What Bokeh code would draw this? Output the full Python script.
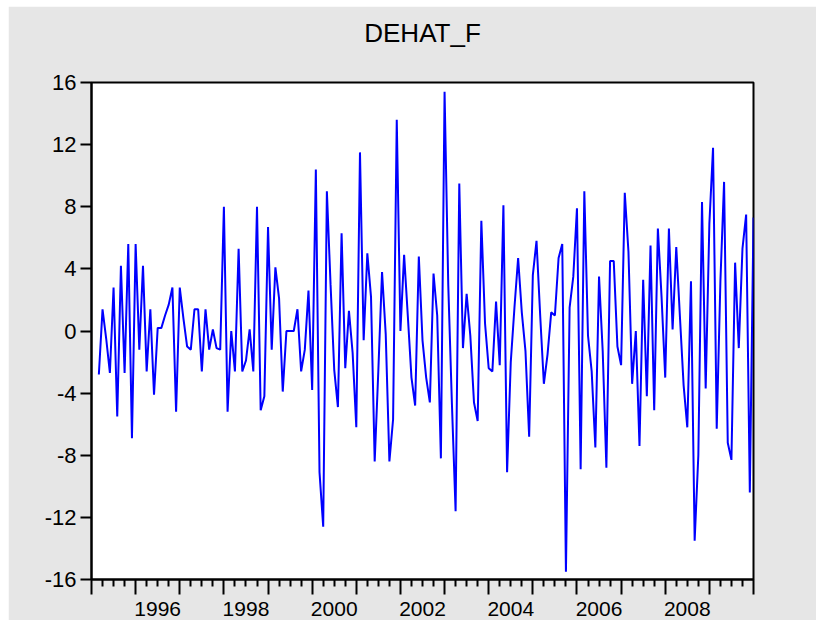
from bokeh.plotting import figure
from bokeh.models import Range1d, FixedTicker, LinearAxis, Spacer
from bokeh.layouts import column, row
from bokeh.embed import file_html
from bokeh.resources import INLINE

title_text = "DEHAT_F"

# monthly values, 1995M02 .. 2009M12
v1995 = [-2.8, 1.4, -0.5, -2.7, 2.8, -5.5, 4.2, -2.7, 5.6, -6.9, 5.6]
v1996 = [-1.2, 4.2, -2.6, 1.4, -4.1, 0.2, 0.2, 1.0, 1.7, 2.8, -5.2, 2.8]
v1997 = [0.8, -1.0, -1.2, 1.4, 1.4, -2.6, 1.4, -1.2, 0.1, -1.1, -1.2, 8.0]
v1998 = [-5.2, 0.0, -2.6, 5.3, -2.6, -1.9, 0.1, -2.6, 8.0, -5.1, -4.2, 6.7]
v1999 = [-1.2, 4.1, 2.1, -3.9, 0.0, 0.0, 0.0, 1.4, -2.6, -1.2, 2.6, -3.8]
v2000 = [10.4, -9.1, -12.6, 9.0, 3.0, -2.5, -4.9, 6.3, -2.4, 1.3, -1.4, -6.2]
v2001 = [11.5, -0.6, 5.0, 2.2, -8.4, -2.5, 3.8, -0.2, -8.4, -5.7, 13.6, 0.0]
v2002 = [4.9, 1.0, -3.0, -4.8, 4.8, -0.6, -3.0, -4.6, 3.7, 1.0, -8.2, 15.4]
v2003 = [3.0, -4.7, -11.6, 9.5, -1.1, 2.4, -0.3, -4.6, -5.8, 7.1, 0.5, -2.4]
v2004 = [-2.6, 1.9, -2.2, 8.1, -9.1, -2.0, 1.5, 4.7, 1.2, -1.3, -6.8, 3.6]
v2005 = [5.8, 1.0, -3.4, -1.5, 1.2, 1.0, 4.7, 5.6, -15.5, 1.5, 3.5, 7.9]
v2006 = [-8.9, 9.0, -0.3, -2.6, -7.5, 3.5, -1.3, -8.8, 4.5, 4.5, -1.0, -2.2]
v2007 = [8.9, 5.1, -3.4, 0.0, -7.4, 3.3, -4.2, 5.5, -5.1, 6.6, 2.2, -3.0]
v2008 = [6.6, 0.1, 5.4, 0.9, -3.5, -6.2, 3.2, -13.5, -8.0, 8.3, -3.7, 6.9]
v2009 = [11.8, -6.3, 3.2, 9.6, -7.2, -8.3, 4.4, -1.1, 5.3, 7.5, -10.4, 7.3]

years = list(range(1995, 2010))
yearly = [v1995, v1996, v1997, v1998, v1999, v2000, v2001, v2002,
          v2003, v2004, v2005, v2006, v2007, v2008, v2009]

y_ticks = [-16, -12, -8, -4, 0, 4, 8, 12, 16]
y_tick_labels = ["-16", "-12", "-8", "-4", "0", "4", "8", "12", "16"]
year_ticks = list(range(1995, 2011))
label_years = [1996, 1998, 2000, 2002, 2004, 2006, 2008]
label_texts = ["1996", "1998", "2000", "2002", "2004", "2006", "2008"]

xs, ys = [], []
for yr, vals in zip(years, yearly):
    m0 = 12 - len(vals) + 1
    for j, v in enumerate(vals):
        xs.append(yr + (m0 + j) / 12.0)
        ys.append(v)

FONT = "Liberation Sans"
X0, X1 = 1995, 2010
Y0, Y1 = -16, 16

p = figure(width=808, height=614,
           x_range=Range1d(X0, X1), y_range=Range1d(Y0, Y1),
           output_backend="svg", toolbar_location=None,
           x_axis_location=None, y_axis_location=None,
           min_border_left=83, min_border_right=63,
           min_border_top=76, min_border_bottom=41)
p.grid.visible = False

p.background_fill_color = "white"
p.border_fill_color = "#e6e6e6"
p.outline_line_color = "black"
p.outline_line_width = 2

# title: centred over the frame, drawn as the only label of an axis above it
title_pos = (X0 + X1) / 2.0
title_axis = LinearAxis(ticker=FixedTicker(ticks=[title_pos], minor_ticks=[]),
                        major_label_overrides={title_pos: title_text})
title_axis.axis_line_color = None
title_axis.major_tick_line_color = None
title_axis.minor_tick_line_color = None
title_axis.major_tick_out = 0
title_axis.major_tick_in = 0
title_axis.minor_tick_out = 0
title_axis.minor_tick_in = 0
title_axis.major_label_standoff = 35
title_axis.major_label_text_font = FONT
title_axis.major_label_text_font_size = "26px"
title_axis.major_label_text_color = "black"
p.add_layout(title_axis, "above")

# y axis
yaxis = LinearAxis(ticker=FixedTicker(ticks=y_ticks, minor_ticks=[]),
                   major_label_overrides={t: s for t, s in zip(y_ticks, y_tick_labels)})
yaxis.major_tick_out = 11
yaxis.major_tick_in = 0
yaxis.minor_tick_out = 0
yaxis.minor_tick_in = 0
yaxis.axis_line_width = 2
yaxis.axis_line_color = "black"
yaxis.major_tick_line_width = 2
yaxis.major_tick_line_color = "black"
yaxis.major_label_standoff = 4
yaxis.major_label_text_font = FONT
yaxis.major_label_text_font_size = "22px"
yaxis.major_label_text_color = "black"
p.add_layout(yaxis, "left")

# x axis: tick marks only (years long, quarters short)
quarter_ticks = [yr + q / 4.0 for yr in years for q in (1, 2, 3)]
xaxis_ticks = LinearAxis(ticker=FixedTicker(ticks=year_ticks, minor_ticks=quarter_ticks),
                         major_label_overrides={t: "" for t in year_ticks})
xaxis_ticks.major_tick_out = 15
xaxis_ticks.major_tick_in = 0
xaxis_ticks.minor_tick_out = 7
xaxis_ticks.minor_tick_in = 0
xaxis_ticks.axis_line_width = 2
xaxis_ticks.axis_line_color = "black"
xaxis_ticks.major_tick_line_width = 2
xaxis_ticks.minor_tick_line_width = 2
xaxis_ticks.major_tick_line_color = "black"
xaxis_ticks.minor_tick_line_color = "black"
xaxis_ticks.major_label_text_font_size = "1px"
xaxis_ticks.major_label_text_color = None
xaxis_ticks.major_label_standoff = 0
p.add_layout(xaxis_ticks, "below")

# x axis: year labels centred in each labelled year
label_pos = [yr + 0.5 for yr in label_years]
xaxis_labels = LinearAxis(ticker=FixedTicker(ticks=label_pos, minor_ticks=[]),
                          major_label_overrides={pos: s for pos, s in zip(label_pos, label_texts)})
xaxis_labels.axis_line_color = None
xaxis_labels.major_tick_line_color = None
xaxis_labels.minor_tick_line_color = None
xaxis_labels.major_tick_out = 0
xaxis_labels.major_tick_in = 0
xaxis_labels.minor_tick_out = 0
xaxis_labels.minor_tick_in = 0
xaxis_labels.major_label_standoff = 7
xaxis_labels.major_label_text_font = FONT
xaxis_labels.major_label_text_font_size = "21px"
xaxis_labels.major_label_text_color = "black"
p.add_layout(xaxis_labels, "below")

p.line(xs, ys, line_color="#0000ff", line_width=2)

page = column(Spacer(height=6), row(Spacer(width=8), p))

open("out.html", "w").write(file_html(page, INLINE))
